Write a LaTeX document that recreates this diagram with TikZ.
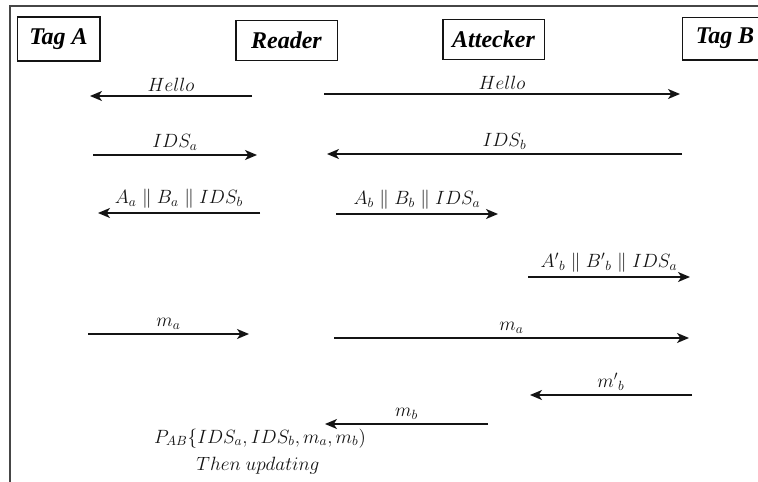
\documentclass[tikz,border=0pt]{standalone}
\usepackage{fontspec}
\setmainfont{Liberation Serif}
\usetikzlibrary{arrows.meta}
\definecolor{framegray}{RGB}{70, 70, 70}
\definecolor{textdark}{RGB}{20, 20, 20}

\begin{document}
\begin{tikzpicture}[
    x=0.75pt, y=-0.75pt,
    party/.style={rectangle, draw=textdark, line width=1pt, minimum height=30pt, inner sep=0pt, font=\fontsize{18}{20}\selectfont\bfseries\itshape},
    msg/.style={-{Stealth[length=9pt, width=7.5pt, inset=2.5pt]}, line width=1.1pt, color=textdark},
    lbl/.style={font=\fontsize{14.5}{17}\selectfont, above, inner sep=3pt, color=textdark},
    note/.style={font=\fontsize{14.5}{17}\selectfont, anchor=base, inner sep=0pt, color=textdark}
]

\clip (0,0) rectangle (758,482);
\fill[white] (0,0) rectangle (758,482);

% Frame
\draw[framegray, line width=1.5pt] (10,495) -- (10,6) -- (775,6);

% Parties
\node[party, minimum width=62pt, minimum height=33pt] (taga) at (58.5, 39) {Tag A};
\node[party, minimum width=76pt] (reader) at (286.5, 40.5) {Reader};
\node[party, minimum width=76pt] (attacker) at (493.5, 39.5) {Attecker};
\node[party, minimum width=64pt, minimum height=32pt] (tagb) at (725, 38.5) {Tag B};

% Hello
\coordinate (helloRs) at (252, 96);
\coordinate (helloRe) at (90, 96);
\coordinate (helloAs) at (324, 94);
\coordinate (helloAe) at (680, 94);
\draw[msg] (helloRs) -- node[lbl] {$Hello$} (helloRe);
\draw[msg] (helloAs) -- node[lbl] {$Hello$} (helloAe);

% Identifiers
\coordinate (idsAs) at (93, 155);
\coordinate (idsAe) at (257, 155);
\coordinate (idsBs) at (682, 154);
\coordinate (idsBe) at (327, 154);
\draw[msg] (idsAs) -- node[lbl] {$IDS_a$} (idsAe);
\draw[msg] (idsBs) -- node[lbl] {$IDS_b$} (idsBe);

% Authentication messages
\coordinate (authAs) at (260, 213);
\coordinate (authAe) at (98, 213);
\coordinate (authBs) at (336, 214);
\coordinate (authBe) at (498, 214);
\coordinate (authFs) at (528, 277);
\coordinate (authFe) at (690, 277);
\draw[msg] (authAs) -- node[lbl] {$A_a \parallel B_a \parallel IDS_b$} (authAe);
\draw[msg] (authBs) -- node[lbl] {$A_b \parallel B_b \parallel IDS_a$} (authBe);
\draw[msg] (authFs) -- node[lbl] {${A'}_b \parallel {B'}_b \parallel IDS_a$} (authFe);

% Responses
\coordinate (maTs) at (88, 334);
\coordinate (maTe) at (249, 334);
\coordinate (maAs) at (334, 338);
\coordinate (maAe) at (689, 338);
\coordinate (mbFs) at (692, 395);
\coordinate (mbFe) at (530, 395);
\coordinate (mbAs) at (488, 424);
\coordinate (mbAe) at (325, 424);
\draw[msg] (maTs) -- node[lbl] {$m_a$} (maTe);
\draw[msg] (maAs) -- node[lbl] {$m_a$} (maAe);
\draw[msg] (mbFs) -- node[lbl] {${m'}_b$} (mbFe);
\draw[msg] (mbAs) -- node[lbl] {$m_b$} (mbAe);

% Final step at the reader
\node[note] (pab) at (260, 443) {$P_{AB}\{IDS_a, IDS_b, m_a, m_b)$};
\node[note] (update) at (258, 470) {$Then\ updating$};

\end{tikzpicture}
\end{document}
